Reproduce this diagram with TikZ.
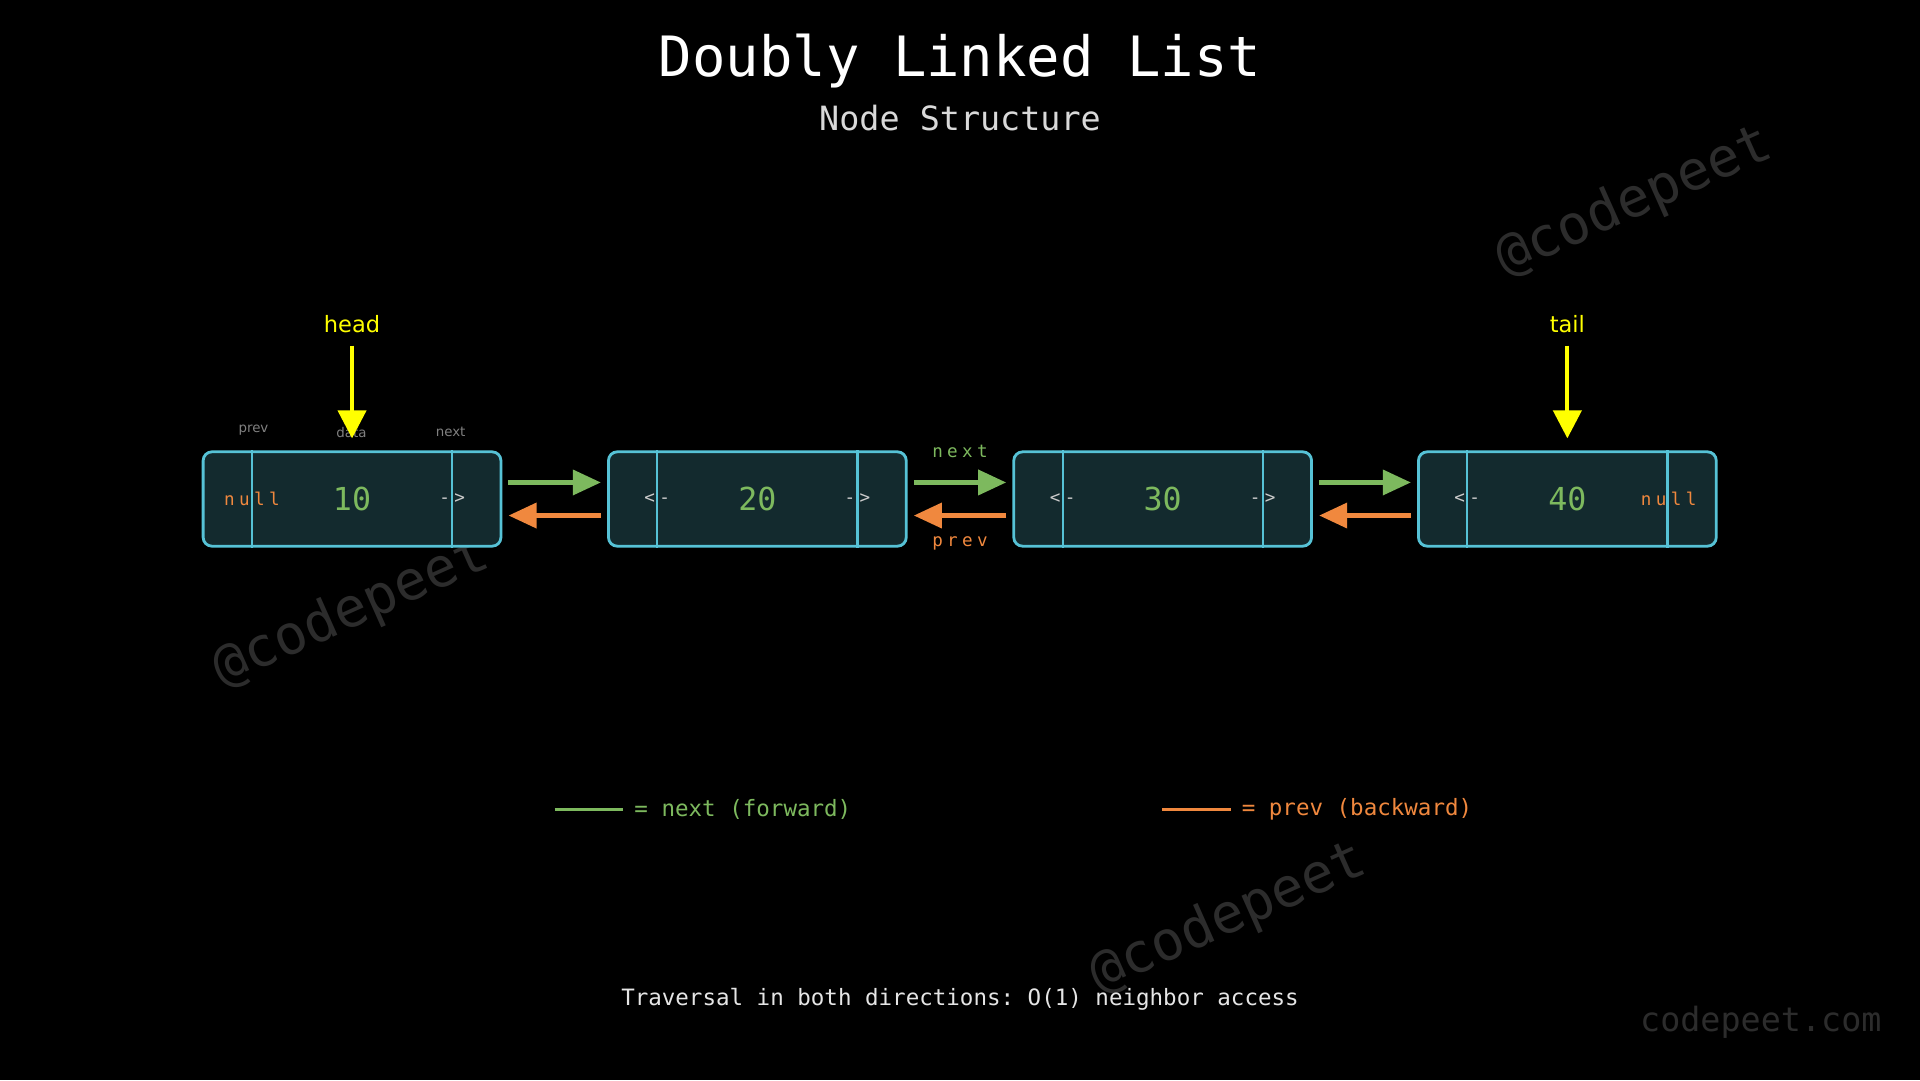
\documentclass[tikz,border=0pt]{standalone}
\usepackage{fontspec}
\setmainfont{DejaVu Sans}
\setmonofont{DejaVu Sans Mono}
\usetikzlibrary{calc,arrows.meta}
\definecolor{boxfill}{HTML}{132A2E}
\definecolor{boxline}{HTML}{56C2D6}
\definecolor{nextc}{HTML}{7DB95E}
\definecolor{prevc}{HTML}{F0883E}
\definecolor{ptrc}{HTML}{FFFF00}
\definecolor{markc}{HTML}{2C2C2C}
\newfontfamily\spacedmono[LetterSpace=25]{DejaVu Sans Mono}
\begin{document}
\begin{tikzpicture}[x=0.012245cm, y=-0.012245cm, font=\ttfamily]

\tikzset{listbox/.style={draw=boxline, fill=boxfill, line width=0.8pt, rounded corners=2.5pt, minimum width=2.976cm, minimum height=0.943cm, inner sep=0pt}}
\tikzset{nextarr/.style={draw=nextc, line width=1.4pt, -{Triangle[length=8pt, width=7pt]}}}
\tikzset{prevarr/.style={draw=prevc, line width=1.4pt, -{Triangle[length=8pt, width=7pt]}}}
\tikzset{ptrarr/.style={draw=ptrc, line width=1.2pt, -{Triangle[length=8pt, width=8pt]}}}
\tikzset{watermark/.style={text=markc, font=\ttfamily\fontsize{15.5}{15.5}\selectfont, rotate=24}}
\tikzset{fieldtext/.style={font=\spacedmono\fontsize{5}{5}\selectfont}}

% background
\fill[black] (0,0) rectangle (1568,882);
\useasboundingbox (0,0) rectangle (1568,882);

% watermarks
\node[watermark] (wm1) at (1335,165) {@codepeet};
\node[watermark] (wm2) at (287,500) {@codepeet};
\node[watermark] (wm3) at (1003,750) {@codepeet};
\node[text=markc, font=\ttfamily\fontsize{9.5}{9.5}\selectfont] (site) at (1438,835) {codepeet.com};

% titles
\node[text=white, font=\ttfamily\fontsize{15.8}{15.8}\selectfont] (title) at (784,50) {Doubly Linked List};
\node[text=white!85!black, font=\ttfamily\fontsize{9.5}{9.5}\selectfont] (subtitle) at (784,96) {Node Structure};

% list nodes
\foreach \n/\x/\v in {b1/287.5/10, b2/618.5/20, b3/949.5/30, b4/1280/40} {
  \node[listbox] (\n) at (\x,407.5) {};
  \draw[boxline, line width=0.6pt] ($(\n.north west)+(41,0)$) -- ($(\n.south west)+(41,0)$);
  \draw[boxline, line width=0.6pt] ($(\n.north east)+(-41,0)$) -- ($(\n.south east)+(-41,0)$);
  \node[text=nextc, font=\ttfamily\fontsize{9}{9}\selectfont] (\n-val) at (\n) {\v};
}

% prev / next fields
\node[text=prevc, fieldtext] (b1-prev) at ($(b1.west)+(41,0)$) {null};
\node[text=prevc, fieldtext] (b4-next) at ($(b4.east)+(-40,0)$) {null};
\foreach \n in {b2,b3,b4} {
  \node[text=white!80!black, fieldtext] (\n-prev) at ($(\n.west)+(41,0)$) {<-};
}
\foreach \n in {b1,b2,b3} {
  \node[text=white!80!black, fieldtext] (\n-next) at ($(\n.east)+(-41,0)$) {->};
}

% field captions
\node[text=gray, font=\fontsize{3.8}{3.8}\selectfont] (cap-prev) at (207,351) {prev};
\node[text=gray, font=\fontsize{3.8}{3.8}\selectfont] (cap-data) at (287,353) {data};
\node[text=gray, font=\fontsize{3.8}{3.8}\selectfont] (cap-next) at (368,353) {next};

% head / tail pointers
\node[text=ptrc, font=\fontsize{6.4}{6.4}\selectfont] (head) at (287.5,265) {head};
\node[text=ptrc, font=\fontsize{6.4}{6.4}\selectfont] (tail) at (1280,265) {tail};
\coordinate (head-end) at (287.5,358);
\coordinate (tail-end) at (1280,358);
\draw[ptrarr] (head) -- (head-end);
\draw[ptrarr] (tail) -- (tail-end);

% links
\foreach \a/\b in {b1/b2, b2/b3, b3/b4} {
  \draw[nextarr] ($(\a.east)+(5,-13.5)$) -- ($(\b.west)+(-5,-13.5)$);
  \draw[prevarr] ($(\b.west)+(-5,13.5)$) -- ($(\a.east)+(5,13.5)$);
}
\node[text=nextc, fieldtext] (lbl-next) at (784,369) {next};
\node[text=prevc, fieldtext] (lbl-prev) at (784,444) {prev};

% legend
\coordinate (lg1a) at (453,661);
\coordinate (lg1b) at (509,661);
\coordinate (lg2a) at (949,661);
\coordinate (lg2b) at (1005,661);
\draw[nextc, line width=0.9pt] (lg1a) -- (lg1b);
\draw[prevc, line width=0.9pt] (lg2a) -- (lg2b);
\node[text=nextc, anchor=west, font=\ttfamily\fontsize{6.4}{6.4}\selectfont] (lg1) at (508,661) {= next (forward)};
\node[text=prevc, anchor=west, font=\ttfamily\fontsize{6.4}{6.4}\selectfont] (lg2) at (1004,661) {= prev (backward)};

% footer
\node[text=white!90!black, font=\ttfamily\fontsize{6.4}{6.4}\selectfont] (footer) at (784,816) {Traversal in both directions: O(1) neighbor access};

\end{tikzpicture}
\end{document}
